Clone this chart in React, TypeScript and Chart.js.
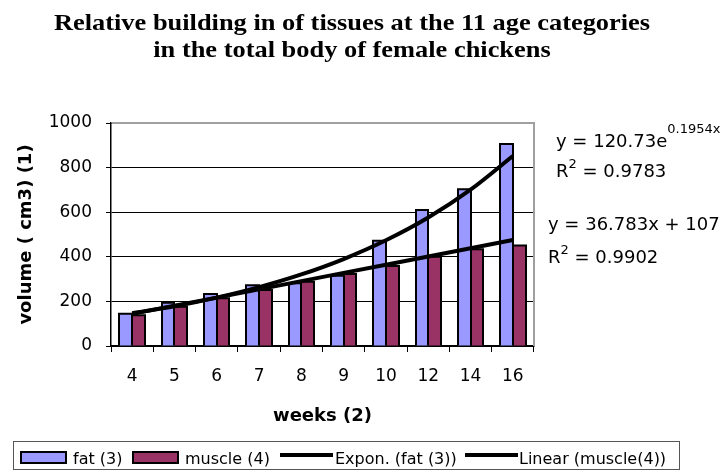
import React, { useEffect, useRef } from "react";
import { Chart, registerables } from "chart.js";

Chart.register(...registerables);

// ---- data ----
const weeks = ["4", "5", "6", "7", "8", "9", "10", "12", "14", "16"];
const fatValues = [145, 194, 233, 272, 281, 315, 472, 610, 703, 906];
const muscleValues = [138, 176, 214, 251, 288, 323, 359, 400, 434, 451];
const exponTrend = [147, 178, 217, 264, 321, 390, 474, 576, 701, 852];
const linearTrend = [144, 181, 217, 254, 291, 328, 364, 401, 438, 475];
const yTicks = [0, 200, 400, 600, 800, 1000];

const titleLines = [
  "Relative building in of tissues at the 11 age categories",
  "in the total body of female chickens",
];
const yTitle = "volume ( cm3) (1)";
const xTitle = "weeks (2)";
const legendLabels = ["fat (3)", "muscle (4)", "Expon. (fat (3))", "Linear (muscle(4))"];
const exponEq = { main: "y = 120.73e", sup: "0.1954x", r2: " = 0.9783" };
const linearEq = { main: "y = 36.783x + 107", r2: " = 0.9902" };

const SANS = '"DejaVu Sans"';
const FAT_COLOR = "#9999FF";
const MUSCLE_COLOR = "#993366";

function drawText(ctx: CanvasRenderingContext2D, text: string, x: number, y: number, sx = 1, align: "left" | "center" = "left") {
  const w = ctx.measureText(text).width * sx;
  const left = align === "center" ? x - w / 2 : x;
  ctx.save();
  ctx.translate(left, y);
  ctx.scale(sx, 1);
  ctx.textAlign = "left";
  ctx.textBaseline = "alphabetic";
  ctx.fillText(text, 0, 0);
  ctx.restore();
  return left + w;
}

const overlayPlugin = {
  id: "overlay",
  afterDatasetDraw(chart: any, args: any) {
    const meta = args.meta;
    if (meta.type !== "bar") return;
    const ctx: CanvasRenderingContext2D = chart.ctx;
    ctx.save();
    ctx.strokeStyle = "#000";
    ctx.lineWidth = 2;
    ctx.lineJoin = "miter";
    meta.data.forEach((el: any) => {
      const { x, y, base, width } = el.getProps(["x", "y", "base", "width"], true);
      const l = Math.round(x - width / 2);
      const r = Math.round(x + width / 2);
      ctx.beginPath();
      ctx.moveTo(l, base);
      ctx.lineTo(l, y);
      ctx.lineTo(r, y);
      ctx.lineTo(r, base);
      ctx.stroke();
    });
    ctx.restore();
  },
  afterDraw(chart: any) {
    const ctx: CanvasRenderingContext2D = chart.ctx;
    const ca = chart.chartArea;
    ctx.save();

    // plot area border (top + right)
    ctx.strokeStyle = "#a0a0a0";
    ctx.lineWidth = 2;
    ctx.beginPath();
    ctx.moveTo(ca.left + 1, ca.top);
    ctx.lineTo(ca.right, ca.top);
    ctx.lineTo(ca.right, ca.bottom);
    ctx.stroke();

    // title
    ctx.fillStyle = "#000";
    ctx.font = 'bold 24px "Liberation Serif"';
    drawText(ctx, titleLines[0], 352, 30, 1.1, "center");
    drawText(ctx, titleLines[1], 352, 57, 1.1, "center");

    // trendline equations
    ctx.font = `18px ${SANS}`;
    let x = drawText(ctx, exponEq.main, 556, 147);
    ctx.font = `13px ${SANS}`;
    drawText(ctx, exponEq.sup, x, 133);
    ctx.font = `18px ${SANS}`;
    x = drawText(ctx, "R", 556, 177);
    ctx.font = `13px ${SANS}`;
    x = drawText(ctx, "2", x, 168);
    ctx.font = `18px ${SANS}`;
    drawText(ctx, exponEq.r2, x, 177);

    drawText(ctx, linearEq.main, 548, 230);
    x = drawText(ctx, "R", 548, 263);
    ctx.font = `13px ${SANS}`;
    x = drawText(ctx, "2", x, 254);
    ctx.font = `18px ${SANS}`;
    drawText(ctx, linearEq.r2, x, 263);

    // legend
    ctx.strokeStyle = "#555";
    ctx.lineWidth = 1;
    ctx.strokeRect(13.5, 441.5, 666, 28);

    ctx.lineWidth = 2;
    ctx.strokeStyle = "#000";
    ctx.fillStyle = FAT_COLOR;
    ctx.fillRect(21, 452, 45, 11);
    ctx.strokeRect(21, 452, 45, 11);
    ctx.fillStyle = MUSCLE_COLOR;
    ctx.fillRect(133, 452, 45, 11);
    ctx.strokeRect(133, 452, 45, 11);

    ctx.lineWidth = 4;
    ctx.beginPath();
    ctx.moveTo(280, 455);
    ctx.lineTo(333, 455);
    ctx.moveTo(465, 455);
    ctx.lineTo(518, 455);
    ctx.stroke();

    ctx.fillStyle = "#000";
    ctx.font = `16px ${SANS}`;
    drawText(ctx, legendLabels[0], 73, 464);
    drawText(ctx, legendLabels[1], 185, 464);
    drawText(ctx, legendLabels[2], 335, 464);
    drawText(ctx, legendLabels[3], 519, 464);

    ctx.restore();
  },
};

export default function App() {
  const canvasRef = useRef<HTMLCanvasElement | null>(null);

  useEffect(() => {
    const canvas = canvasRef.current;
    if (!canvas) return;
    const chart = new Chart(canvas, {
      type: "bar",
      data: {
        labels: weeks,
        datasets: [
          {
            type: "line",
            label: legendLabels[2],
            data: exponTrend,
            borderColor: "#000",
            borderWidth: 4,
            pointRadius: 0,
            cubicInterpolationMode: "monotone",
            fill: false,
            order: 0,
          } as any,
          {
            type: "line",
            label: legendLabels[3],
            data: linearTrend,
            borderColor: "#000",
            borderWidth: 4,
            pointRadius: 0,
            tension: 0,
            fill: false,
            order: 0,
          } as any,
          {
            type: "bar",
            label: legendLabels[0],
            data: fatValues,
            backgroundColor: FAT_COLOR,
            borderWidth: 0,
            categoryPercentage: 0.6,
            barPercentage: 1,
            order: 1,
          } as any,
          {
            type: "bar",
            label: legendLabels[1],
            data: muscleValues,
            backgroundColor: MUSCLE_COLOR,
            borderWidth: 0,
            categoryPercentage: 0.6,
            barPercentage: 1,
            order: 1,
          } as any,
        ],
      },
      options: {
        animation: false,
        responsive: false,
        devicePixelRatio: 1,
        layout: { padding: { top: 123, right: 188, bottom: 36, left: 0 }, autoPadding: false } as any,
        plugins: {
          legend: { display: false },
          title: { display: false },
          tooltip: { enabled: false },
        },
        scales: {
          x: {
            grid: {
              display: true,
              drawOnChartArea: false,
              drawTicks: true,
              tickLength: 6,
              color: "#000",
              lineWidth: 1,
              offset: true,
            },
            border: { display: true, color: "#000", width: 1.5 },
            ticks: {
              font: { family: "DejaVu Sans", size: 17 },
              color: "#000",
              padding: 14,
              maxRotation: 0,
              autoSkip: false,
            },
            title: {
              display: true,
              text: xTitle,
              font: { family: "DejaVu Sans", size: 18, weight: "bold" },
              color: "#000",
              padding: { top: 0, bottom: 9 },
            },
            afterFit: (s: any) => {
              s.height = 90;
            },
          } as any,
          y: {
            min: 0,
            max: 1000,
            afterBuildTicks: (s: any) => {
              s.ticks = yTicks.map((v) => ({ value: v }));
            },
            grid: {
              color: "#000",
              lineWidth: 1,
              tickLength: 5,
              drawTicks: true,
            },
            border: { display: true, color: "#000", width: 1.5 },
            ticks: {
              font: { family: "DejaVu Sans", size: 17 },
              color: "#000",
              padding: 14,
              callback: (v: any) => String(v),
            },
            title: {
              display: true,
              text: yTitle,
              font: { family: "DejaVu Sans", size: 18, weight: "bold" },
              color: "#000",
              padding: { top: 16, bottom: 0 },
            },
            afterFit: (s: any) => {
              s.width = 111;
            },
          } as any,
        },
      },
      plugins: [overlayPlugin],
    });
    return () => chart.destroy();
  }, []);

  return (
    <div style={{ position: "absolute", left: 0, top: 0, width: 722, height: 472, background: "#fff" }}>
      <canvas ref={canvasRef} width={722} height={472} style={{ display: "block" }} />
    </div>
  );
}
